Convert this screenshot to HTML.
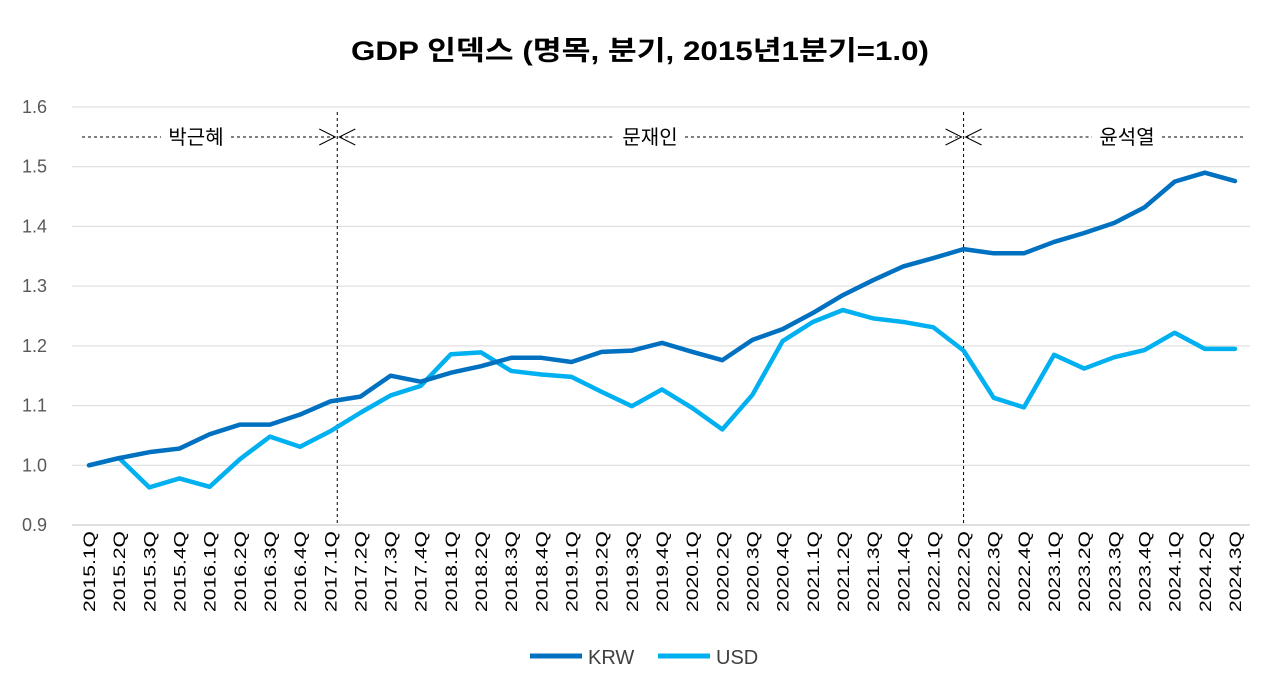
<!DOCTYPE html>
<html><head><meta charset="utf-8">
<style>
body{margin:0;background:#fff;}
svg text{font-family:"Liberation Sans","Noto Sans CJK KR",sans-serif;}
</style></head>
<body>
<svg id="chart" width="1280" height="689" xmlns="http://www.w3.org/2000/svg">
<text x="640" y="60" text-anchor="middle" font-size="27" font-weight="bold" fill="#000" textLength="578" lengthAdjust="spacingAndGlyphs">GDP 인덱스 (명목, 분기, 2015년1분기=1.0)</text>
<g id="grid"></g>
<g id="ylab"></g>
<g id="xlab"></g>
<g id="eras"></g>
<g id="series"></g>
<g>
<line x1="530" y1="656" x2="582" y2="656" stroke="#0070c0" stroke-width="5"/>
<text x="588" y="664" font-size="20" fill="#404040">KRW</text>
<line x1="658" y1="656" x2="710" y2="656" stroke="#00b0f0" stroke-width="5"/>
<text x="716" y="664" font-size="20" fill="#404040">USD</text>
</g>
</svg>
<script>
const categories=["2015.1Q","2015.2Q","2015.3Q","2015.4Q","2016.1Q","2016.2Q","2016.3Q","2016.4Q","2017.1Q","2017.2Q","2017.3Q","2017.4Q","2018.1Q","2018.2Q","2018.3Q","2018.4Q","2019.1Q","2019.2Q","2019.3Q","2019.4Q","2020.1Q","2020.2Q","2020.3Q","2020.4Q","2021.1Q","2021.2Q","2021.3Q","2021.4Q","2022.1Q","2022.2Q","2022.3Q","2022.4Q","2023.1Q","2023.2Q","2023.3Q","2023.4Q","2024.1Q","2024.2Q","2024.3Q"];
const krw=[1.00,1.012,1.022,1.028,1.052,1.068,1.068,1.085,1.107,1.115,1.15,1.14,1.155,1.166,1.18,1.18,1.173,1.19,1.192,1.205,1.19,1.176,1.21,1.228,1.255,1.285,1.31,1.333,1.347,1.362,1.355,1.355,1.374,1.389,1.406,1.432,1.475,1.49,1.476];
const usd=[1.00,1.012,0.963,0.978,0.964,1.01,1.048,1.031,1.057,1.088,1.117,1.133,1.186,1.189,1.158,1.152,1.148,1.123,1.099,1.127,1.096,1.06,1.118,1.208,1.24,1.26,1.246,1.24,1.231,1.192,1.113,1.097,1.185,1.162,1.181,1.193,1.222,1.195,1.195];
const yTicks=["0.9","1.0","1.1","1.2","1.3","1.4","1.5","1.6"];
const eras=[{name:"박근혜",from:0,to:8},{name:"문재인",from:8,to:29},{name:"윤석열",from:29,to:38}];
const NS="http://www.w3.org/2000/svg";
const X0=89,X1=1235,Y0=525,Y1=107,YMIN=0.9,YMAX=1.6;
const xs=i=>X0+(X1-X0)*i/(categories.length-1);
const ys=v=>Y0-(v-YMIN)/(YMAX-YMIN)*(Y0-Y1);
function mk(p,tag,a){const e=document.createElementNS(NS,tag);for(const k in a)e.setAttribute(k,a[k]);p.appendChild(e);return e;}
const grid=document.getElementById('grid'),yl=document.getElementById('ylab'),xl=document.getElementById('xlab'),er=document.getElementById('eras'),se=document.getElementById('series');
yTicks.forEach(t=>{const y=ys(+t);
const l=mk(grid,'line',{x1:72,x2:1250,y1:y,y2:y,stroke:+t===0.9?'#bfbfbf':'#d9d9d9','stroke-width':1});


const tx=mk(yl,'text',{x:47,y:y+6,'text-anchor':'end','font-size':18,fill:'#595959'});tx.textContent=t;

});
categories.forEach((c,i)=>{const x=xs(i);
const tx=mk(xl,'text',{x:0,y:0,transform:`translate(${x+6},531) rotate(-90)`,'text-anchor':'end','font-size':17,fill:'#000',textLength:81,lengthAdjust:'spacingAndGlyphs'});tx.textContent=c;

});
const AY=137;
const dx=k=>xs(eras[k].from)+(k===1?7:0);
eras.forEach((e,k)=>{const xa=k===0?82:dx(k)+2,xb=k===eras.length-1?1245:dx(k+1)-2;const cx=k===0?196:(k===1?650:1127);
const w=62;
mk(er,'line',{x1:xa,x2:cx-w/2-4,y1:AY,y2:AY,stroke:'#000','stroke-dasharray':'3,3','stroke-width':1});
mk(er,'line',{x1:cx+w/2+4,x2:xb,y1:AY,y2:AY,stroke:'#000','stroke-dasharray':'3,3','stroke-width':1});
if(k>0)mk(er,'polyline',{points:`${xa+16},${AY-8} ${xa},${AY} ${xa+16},${AY+8}`,fill:'none',stroke:'#000'});
if(k<eras.length-1)mk(er,'polyline',{points:`${xb-16},${AY-8} ${xb},${AY} ${xb-16},${AY+8}`,fill:'none',stroke:'#000'});
const tx=mk(er,'text',{x:cx,y:AY+7,'text-anchor':'middle','font-size':20,fill:'#000'});tx.textContent=e.name;


if(k>0){const d=mk(er,'line',{x1:dx(k),x2:dx(k),y1:112,y2:525,stroke:'#000','stroke-dasharray':'3,3','stroke-width':1});

}
});
function line(vals,col,name){const p=mk(se,'polyline',{points:vals.map((v,i)=>xs(i)+','+ys(v)).join(' '),fill:'none',stroke:col,'stroke-width':4.5,'stroke-linejoin':'round','stroke-linecap':'round'});

}
line(usd,'#00b0f0','usd-line');
line(krw,'#0070c0','krw-line');
</script>
</body></html>
